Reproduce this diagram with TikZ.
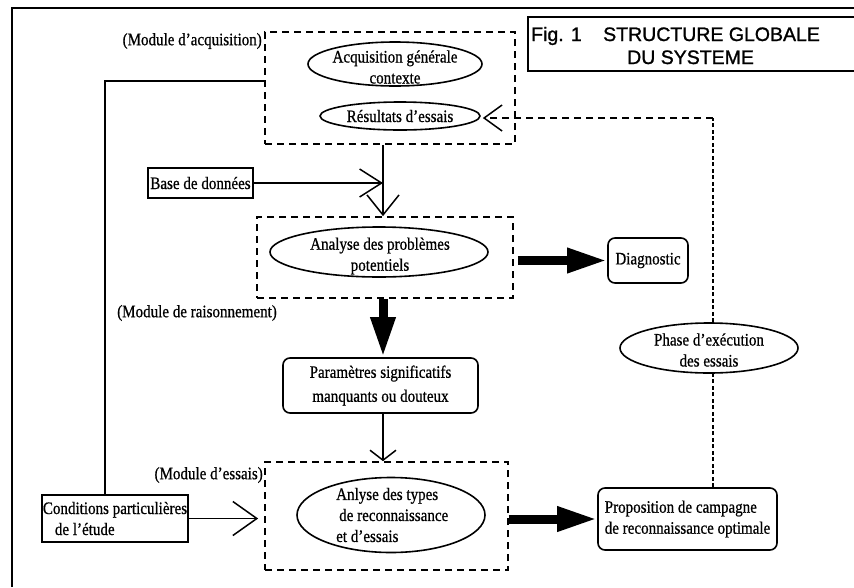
\documentclass[tikz,border=0pt]{standalone}
\usepackage{fontspec}
\setmainfont{Liberation Serif}[FakeStretch=0.86,FakeBold=0.7]
\newfontfamily\titlefont{Liberation Sans}[FakeBold=1.2]
\usetikzlibrary{arrows.meta,shapes.geometric}
\tikzset{
  txt/.style={font=\fontsize{17.5}{21}\selectfont, inner sep=0pt},
  ttl/.style={anchor=base west, inner sep=0pt, font=\titlefont\fontsize{19.5}{22}\selectfont},
  frameline/.style={line width=1.4pt},
  sline/.style={line width=1.5pt},
  dbox/.style={draw, line width=1.7pt, dash pattern=on 7pt off 5pt, inner sep=0pt},
  sbox/.style={draw, line width=1.6pt, inner sep=0pt, txt},
  rbox/.style={sbox, rounded corners=7pt},
  ell/.style={ellipse, draw, line width=1.6pt, inner sep=0pt},
  openhead/.style={sline, -{Straight Barb[length=22pt,width=28pt,line width=1.5pt]}},
  smallhead/.style={sline, -{Straight Barb[length=10pt,width=26pt,line width=1.5pt]}},
  fatarrow/.style={line width=9pt, -{Triangle[length=40pt,width=23pt]}},
  dotline/.style={line width=1.7pt, dash pattern=on 4pt off 2.5pt},
  dashline/.style={line width=1.7pt, dash pattern=on 7pt off 5pt},
}
\begin{document}
\begin{tikzpicture}[x=1pt,y=-1pt]
\useasboundingbox (0,0) rectangle (854,587);
% outer frame
\draw[frameline] (12,587) -- (12,8) -- (854,8);
% title
\draw[frameline] (854,17) -- (528,17) -- (528,71) -- (854,71);
\node[ttl] (fig) at (531,41) {Fig. 1};
\node[ttl] (t1) at (603,41) {STRUCTURE GLOBALE};
\node[ttl] (t2) at (627,64) {DU SYSTEME};

% dashed module boxes
\node[dbox, minimum width=250pt, minimum height=112pt] (acq) at (390,88) {};
\node[dbox, minimum width=256pt, minimum height=81pt] (ana) at (385,257.5) {};
\node[dbox, minimum width=243pt, minimum height=108pt] (ess) at (386.5,516) {};

\node[txt, anchor=east] (lacq) at (262,41) {(Module d'acquisition)};
\node[txt, anchor=west] (lrai) at (117,313) {(Module de raisonnement)};
\node[txt, anchor=east] (less) at (263,475) {(Module d'essais)};

% ellipses
\node[ell, minimum width=174pt, minimum height=44pt] (e1) at (395,64) {};
\node[txt, align=center] (e1t) at (395,67) {Acquisition générale\\contexte};
\node[ell, minimum width=160pt, minimum height=28pt] (e2) at (400,116) {};
\node[txt] (e2t) at (400,116) {Résultats d'essais};
\node[ell, minimum width=218pt, minimum height=50pt] (e3) at (379,252) {};
\node[txt, align=center] (e3t) at (380,256) {Analyse des problèmes\\potentiels};
\node[ell, minimum width=178pt, minimum height=50pt] (phase) at (709,348) {};
\node[txt, align=center] (phaset) at (709,350) {Phase d'exécution\\des essais};
\node[ell, minimum width=188pt, minimum height=75pt] (e5) at (391,515) {};
\node[txt, align=left, anchor=west] (e5t) at (336,515) {Anlyse des types\\\hspace*{3pt}de reconnaissance\\et d'essais};

% boxes
\node[sbox, minimum width=105pt, minimum height=30pt] (base) at (200.5,183) {Base de données};
\node[sbox, minimum width=146pt, minimum height=47pt, align=left] (cond) at (115,518.5) {Conditions particulières\\\hspace*{12pt}de l'étude};
\node[rbox, minimum width=80pt, minimum height=45pt] (diag) at (648,260.5) {Diagnostic};
\node[rbox, minimum width=195pt, minimum height=55pt, align=center] (param) at (380.5,385.5) {Paramètres significatifs\\[3pt]manquants ou douteux};
\node[rbox, minimum width=179pt, minimum height=62pt, align=left] (prop) at (687.5,519) {Proposition de campagne\\de reconnaissance optimale};

% helper coordinates
\coordinate (c1) at (105,81);
\coordinate (j) at (383,183);
\coordinate (k) at (713,118);

% connectors
\draw[sline] (acq.west |- c1) -- (c1) -- (c1 |- cond.north);
\draw[openhead] (base.east) -- (j);
\draw[sline, -{Straight Barb[length=20pt,width=32pt,line width=1.5pt]}] (acq.south -| j) -- (ana.north -| j);
\draw[fatarrow] (ana.south -| j) -- (param.north -| j);
\draw[smallhead] (param.south -| j) -- (ess.north -| j);
\draw[fatarrow, shorten <=4pt] (ana.east |- diag) -- (diag.west);
\draw[fatarrow] (ess.east |- prop) -- (prop.west);
\draw[sline, -{Straight Barb[length=24pt,width=34pt,line width=1.5pt]}, shorten >=6pt] (cond.east) -- (ess.west |- cond.east);
\draw[dotline] (prop.north -| k) -- (phase.south -| k);
\draw[dotline] (phase.north -| k) -- (k);
\draw[dashline, -{Straight Barb[length=18pt,width=26pt,line width=1.5pt]}, shorten >=2pt] (k) -- (e2.east |- k);
\end{tikzpicture}
\end{document}
